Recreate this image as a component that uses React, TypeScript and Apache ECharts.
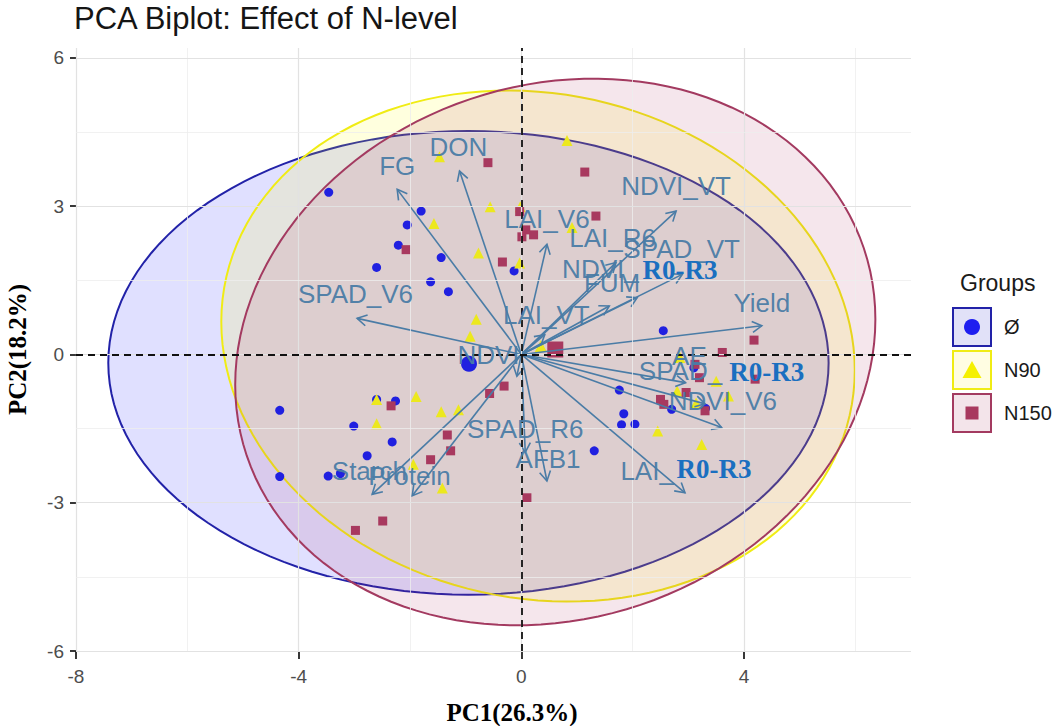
import React, { useEffect, useRef } from 'react';
import * as echarts from 'echarts';

// ---------- data ----------
const groupNames = ['Ø', 'N90', 'N150'];

const pointsØ = [
  [-3.46, 3.28], [-1.8, 2.9], [-2.05, 2.62], [-2.21, 2.21], [-1.44, 1.96], [-2.6, 1.76], [-1.63, 1.47], [-1.31, 1.27], [-0.13, 1.69],
  [-4.34, -1.13], [-2.6, -0.91], [-2.26, -0.94], [-3.01, -1.45], [-2.32, -1.77], [-2.77, -2.05], [-4.34, -2.47], [-3.47, -2.46], [-3.25, -2.41],
  [2.55, 0.48], [3.1, -0.27], [1.76, -0.72], [1.84, -1.2], [1.8, -1.42], [2.04, -1.41], [1.31, -1.95], [2.7, -1.11], [3.31, -1.09],
];
const pointsN90 = [
  [-1.47, 4.0], [0.82, 4.33], [-0.56, 2.99], [-1.57, 2.65], [-0.77, 2.05], [-0.03, 1.85], [-0.02, 2.99], [0.91, 2.57], [-0.81, 0.71], [-0.92, 0.37],
  [-2.6, -0.91], [-1.89, -0.85], [-1.44, -1.16], [-1.13, -1.12], [-2.6, -1.4], [-1.42, -2.7], [-1.94, -2.22],
  [2.85, -0.06], [3.5, -0.54], [2.8, -0.74], [3.72, -0.84], [3.14, -0.98], [2.45, -1.55], [3.24, -1.82],
];
const pointsN150 = [
  [-0.6, 3.88], [1.14, 3.69], [1.34, 2.8], [-2.07, 2.12], [-0.03, 2.89], [0.08, 2.52], [0.22, 2.42], [0.01, 2.38], [-0.34, 1.87],
  [4.18, 0.29], [3.61, 0.04], [3.12, -0.2], [3.2, -0.47], [4.2, -0.5], [2.96, -0.77], [2.5, -0.91], [2.56, -1.01], [3.3, -1.14], [0.1, -2.9],
  [-0.31, -0.64], [-0.57, -0.79], [-1.33, -1.63], [-1.27, -1.95], [-1.63, -2.13], [-2.34, -1.04], [-2.49, -3.37], [-2.98, -3.56],
];
const groupMeans = [[-0.94, -0.19], [0.35, 0.17], [0.61, 0.1]];

const ellipseCenterX = [-0.95, 0.3, 0.61];
const ellipseCenterY = [-0.17, 0.17, 0.05];
const ellipseRadiusX = [6.47, 5.69, 5.75];
const ellipseRadiusY = [4.69, 5.17, 5.53];
const ellipseTilt = [0, -0.095, 0.12];

const variableNames = ['FG', 'DON', 'SPAD_V6', 'LAI_V6', 'LAI_R6', 'NDVI_VT', 'SPAD_VT', 'NDVI_R0-R3', 'FUM', 'LAI_VT', 'Yield', 'NDVI', 'AE', 'SPAD_R0-R3', 'NDVI_V6', 'LAI_R0-R3', 'AFB1', 'SPAD_R6', 'Starch', 'Protein'];
const loadingX = [-2.23, -1.11, -2.95, 0.46, 1.7, 2.78, 2.89, 2.08, 1.58, 0.42, 4.32, -0.08, 2.95, 3.3, 3.6, 2.94, 0.46, 0.07, -2.68, -1.96];
const loadingY = [3.34, 3.71, 0.73, 2.23, 1.86, 2.9, 1.62, 1.15, 0.98, 0.4, 0.58, -0.44, -0.57, -1.0, -1.48, -2.8, -2.56, -1.98, -2.83, -2.86];

const labelTexts = ['FG', 'DON', 'SPAD_V6', 'LAI_V6', 'LAI_R6', 'NDVI_VT', 'SPAD_VT', 'NDVI_', 'FUM', 'LAI_VT', 'Yield', 'NDVI', 'AE', 'SPAD_', 'NDVI_V6', 'LAI_', 'AFB1', 'SPAD_R6', 'Starch', 'Protein'];
const labelX = [-2.23, -1.13, -2.98, 0.46, 1.64, 2.78, 2.88, 1.42, 1.63, 0.45, 4.32, -0.59, 3.02, 2.86, 3.62, 2.26, 0.48, 0.07, -2.73, -2.01];
const labelY = [3.81, 4.19, 1.22, 2.74, 2.36, 3.41, 2.13, 1.73, 1.45, 0.8, 1.05, -0.01, -0.03, -0.33, -0.94, -2.36, -2.12, -1.51, -2.35, -2.46];

const overlayTexts = ['R0-R3', 'R0-R3', 'R0-R3'];
const overlayX = [2.85, 4.41, 3.46];
const overlayY = [1.71, -0.35, -2.31];

const xMajor = [-8, -4, 0, 4];
const xMinor = [-6, -2, 2, 6];
const yMajor = [-6, -3, 0, 3, 6];
const yMinor = [-4.5, -1.5, 1.5, 4.5];

// ---------- styles ----------
const SANS = '"Liberation Sans", Arial, Helvetica, sans-serif';
const SERIF = '"Liberation Serif", "Times New Roman", serif';
const ARROW = '#4a7ca6';
const ellipseFills = ['rgba(0,0,255,0.12)', 'rgba(255,255,0,0.13)', 'rgba(176,48,96,0.12)'];
const ellipseStrokes = ['#2222a8', '#f0ec14', '#a33a60'];
const pointColors = ['#2020e0', '#ece81e', '#a8395f'];
const pointSymbols = ['circle', 'triangle', 'rect'];

export default function App() {
  const ref = useRef<HTMLDivElement>(null);

  useEffect(() => {
    if (!ref.current) return;
    const chart = echarts.init(ref.current, undefined, { renderer: 'svg' });

    const ellipseData = ellipseCenterX.map((cx, i) => [cx, ellipseCenterY[i], ellipseRadiusX[i], ellipseRadiusY[i], ellipseTilt[i]]);
    const arrowData = loadingX.map((x, i) => ({ name: variableNames[i], value: [x, loadingY[i]] }));
    const labelData = labelX.map((x, i) => ({ name: labelTexts[i], value: [x, labelY[i]] }));
    const overlayData = overlayX.map((x, i) => ({ name: overlayTexts[i], value: [x, overlayY[i]] }));
    const groupPoints = [pointsØ, pointsN90, pointsN150];

    const gridLines = [
      ...xMajor.map((v) => ({ xAxis: v, lineStyle: { color: '#e2e2e2', width: 1.2, type: 'solid' } })),
      ...xMinor.map((v) => ({ xAxis: v, lineStyle: { color: '#eeeeee', width: 0.8, type: 'solid' } })),
      ...yMajor.map((v) => ({ yAxis: v, lineStyle: { color: '#e2e2e2', width: 1.2, type: 'solid' } })),
      ...yMinor.map((v) => ({ yAxis: v, lineStyle: { color: '#eeeeee', width: 0.8, type: 'solid' } })),
    ];

    const option: any = {
      animation: false,
      backgroundColor: '#ffffff',
      grid: { left: 76, right: 146, top: 48, bottom: 75, containLabel: false, outerBoundsMode: 'none' },
      xAxis: {
        type: 'value',
        min: -8,
        max: 7,
        axisLine: { show: false, onZero: false },
        splitLine: { show: false },
        axisTick: { show: true, customValues: xMajor, length: 8, lineStyle: { color: '#222', width: 1.8 } },
        axisLabel: { customValues: xMajor, color: '#4d4d4d', fontSize: 19, fontFamily: SANS, margin: 16 },
      },
      yAxis: {
        type: 'value',
        min: -6,
        max: 6.2,
        axisLine: { show: false, onZero: false },
        splitLine: { show: false },
        axisTick: { show: true, customValues: yMajor, length: 6, lineStyle: { color: '#222', width: 1.8 } },
        axisLabel: { customValues: yMajor, color: '#4d4d4d', fontSize: 19, fontFamily: SANS, margin: 12 },
        name: 'PC2(18.2%)',
        nameLocation: 'middle',
        nameGap: 46,
        nameRotate: 90,
        nameTextStyle: { fontFamily: SERIF, fontWeight: 'bold', fontSize: 25, color: '#000' },
      },
      series: [
        {
          type: 'line',
          data: [],
          z: 0,
          silent: true,
          markLine: { symbol: ['none', 'none'], silent: true, label: { show: false }, animation: false, data: gridLines },
        },
        {
          type: 'custom',
          z: 1,
          silent: true,
          clip: true,
          encode: { x: 0, y: 1 },
          data: ellipseData,
          renderItem: (params: any, api: any) => {
            const cx = api.value(0), cy = api.value(1), rx = api.value(2), ry = api.value(3), phi = api.value(4);
            const pts: number[][] = [];
            const n = 140;
            for (let k = 0; k < n; k++) {
              const t = (k / n) * Math.PI * 2;
              pts.push(api.coord([cx + rx * Math.cos(t), cy + ry * Math.sin(t + phi)]));
            }
            const i = params.dataIndex;
            return { type: 'polygon', shape: { points: pts }, style: { fill: ellipseFills[i], stroke: ellipseStrokes[i], lineWidth: 2 } };
          },
        },
        {
          type: 'line',
          data: [],
          z: 2,
          silent: true,
          markLine: {
            symbol: ['none', 'none'],
            silent: true,
            label: { show: false },
            lineStyle: { color: '#111', width: 1.8, type: [7, 5] },
            data: [{ xAxis: 0 }, { yAxis: 0 }],
          },
        },
        ...groupPoints.map((pts, i) => ({
          type: 'scatter',
          name: groupNames[i],
          z: 3,
          data: pts,
          symbol: pointSymbols[i],
          symbolSize: i === 1 ? 11 : 9,
          itemStyle: { color: pointColors[i], opacity: 1 },
        })),
        ...groupMeans.map((m, i) => ({
          type: 'scatter',
          name: groupNames[i] + ' mean',
          z: 3,
          data: [m],
          symbol: pointSymbols[i],
          symbolSize: i === 1 ? 12 : 16,
          itemStyle: { color: pointColors[i], opacity: 1 },
        })),
        {
          type: 'custom',
          z: 4,
          silent: true,
          clip: false,
          encode: { x: 0, y: 1 },
          data: arrowData,
          renderItem: (params: any, api: any) => {
            const o = api.coord([0, 0]);
            const p = api.coord([api.value(0), api.value(1)]);
            const ang = Math.atan2(p[1] - o[1], p[0] - o[0]);
            const L = 11, a = Math.PI / 6;
            const l = [p[0] - L * Math.cos(ang - a), p[1] - L * Math.sin(ang - a)];
            const r = [p[0] - L * Math.cos(ang + a), p[1] - L * Math.sin(ang + a)];
            return {
              type: 'group',
              children: [
                { type: 'line', shape: { x1: o[0], y1: o[1], x2: p[0], y2: p[1] }, style: { stroke: ARROW, lineWidth: 1.6 } },
                { type: 'polyline', shape: { points: [l, p, r] }, style: { stroke: ARROW, fill: 'none', lineWidth: 1.6 } },
              ],
            };
          },
        },
        {
          type: 'custom',
          z: 5,
          silent: true,
          clip: false,
          encode: { x: 0, y: 1 },
          data: labelData,
          renderItem: (params: any, api: any) => {
            const p = api.coord([api.value(0), api.value(1)]);
            return {
              type: 'text',
              x: p[0],
              y: p[1],
              style: { text: labelTexts[params.dataIndex], fill: ARROW, fontSize: 26, fontFamily: SANS, align: 'center', verticalAlign: 'middle', opacity: 0.95 },
            };
          },
        },
        {
          type: 'custom',
          z: 6,
          silent: true,
          clip: false,
          encode: { x: 0, y: 1 },
          data: overlayData,
          renderItem: (params: any, api: any) => {
            const p = api.coord([api.value(0), api.value(1)]);
            return {
              type: 'text',
              x: p[0],
              y: p[1],
              style: { text: overlayTexts[params.dataIndex], fill: '#1a6fc0', fontSize: 27, fontWeight: 'bold', fontFamily: SERIF, align: 'center', verticalAlign: 'middle' },
            };
          },
        },
      ],
      graphic: [
        { type: 'text', x: 74, y: 18, style: { text: 'PCA Biplot: Effect of N-level', fontSize: 31, fontFamily: SANS, fill: '#151515', verticalAlign: 'middle' } },
        { type: 'text', x: 512, y: 712, style: { text: 'PC1(26.3%)', fontSize: 25, fontWeight: 'bold', fontFamily: SERIF, fill: '#000', align: 'center', verticalAlign: 'middle' } },
        { type: 'text', x: 960, y: 283, style: { text: 'Groups', fontSize: 23, fontFamily: SANS, fill: '#1a1a1a', verticalAlign: 'middle' } },
        { type: 'rect', shape: { x: 953, y: 308, width: 38, height: 38 }, style: { fill: '#e1e1f8', stroke: '#2222a8', lineWidth: 2 } },
        { type: 'circle', shape: { cx: 972, cy: 327, r: 8 }, style: { fill: '#1e1ef0' } },
        { type: 'rect', shape: { x: 953, y: 351, width: 38, height: 38 }, style: { fill: '#fffde2', stroke: '#f0ec14', lineWidth: 2 } },
        { type: 'polygon', shape: { points: [[972, 361], [981.5, 378], [962.5, 378]] }, style: { fill: '#f5f000' } },
        { type: 'rect', shape: { x: 953, y: 394, width: 38, height: 38 }, style: { fill: '#f3e4ea', stroke: '#a33a60', lineWidth: 2 } },
        { type: 'rect', shape: { x: 965.5, y: 406.5, width: 13, height: 13 }, style: { fill: '#a8395f' } },
        { type: 'text', x: 1004, y: 327, style: { text: groupNames[0], fontSize: 20, fontFamily: SANS, fill: '#1a1a1a', verticalAlign: 'middle' } },
        { type: 'text', x: 1004, y: 370, style: { text: groupNames[1], fontSize: 20, fontFamily: SANS, fill: '#1a1a1a', verticalAlign: 'middle' } },
        { type: 'text', x: 1004, y: 413, style: { text: groupNames[2], fontSize: 20, fontFamily: SANS, fill: '#1a1a1a', verticalAlign: 'middle' } },
      ],
    };

    chart.setOption(option);
    return () => chart.dispose();
  }, []);

  return <div ref={ref} style={{ position: 'absolute', left: 0, top: 0, width: 1057, height: 726, background: '#fff' }} />;
}
